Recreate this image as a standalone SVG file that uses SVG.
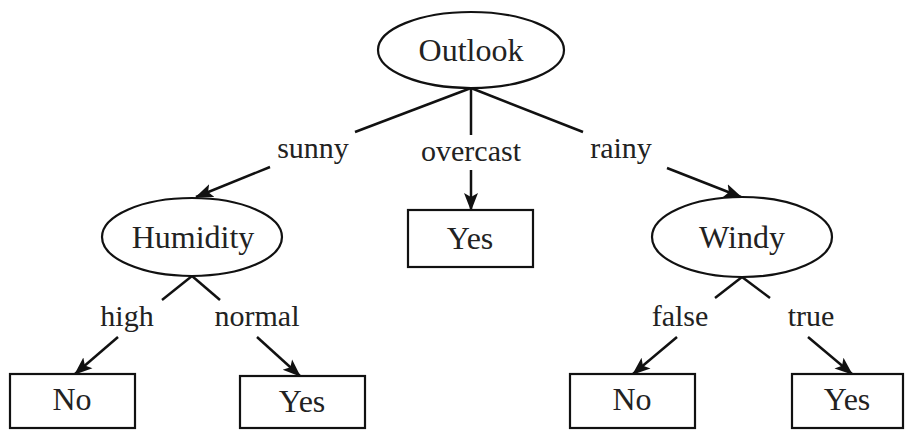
<svg xmlns="http://www.w3.org/2000/svg" width="905" height="430" viewBox="0 0 905 430">
  <defs>
    <marker id="arrow" markerWidth="18" markerHeight="16" refX="17" refY="8" orient="auto" markerUnits="userSpaceOnUse">
      <path d="M0,1 L18,8 L0,15 L4,8 Z" fill="#111"/>
    </marker>
    <style>
      .shape { fill: #fff; stroke: #111; stroke-width: 2.2; }
      .edge { stroke: #111; stroke-width: 2.5; fill: none; }
      .arr { stroke: #111; stroke-width: 2.5; fill: none; marker-end: url(#arrow); }
      .node-text { font-family: "Liberation Serif", "Times New Roman", serif; font-size: 32px; fill: #222; text-anchor: middle; }
      .label { font-family: "Liberation Serif", "Times New Roman", serif; font-size: 30px; fill: #222; text-anchor: middle; }
    </style>
  </defs>
  <rect width="905" height="430" fill="#fff"/>

  <!-- connectors -->
  <g id="connectors">
    <!-- Outlook branches -->
    <line class="edge" x1="471" y1="88" x2="355" y2="132"/>
    <line class="edge" x1="471" y1="88" x2="471" y2="135"/>
    <line class="edge" x1="471" y1="88" x2="583" y2="132"/>
    <line class="arr" x1="270" y1="167" x2="196" y2="197"/>
    <line class="arr" x1="471" y1="170" x2="471" y2="210"/>
    <line class="arr" x1="667" y1="168" x2="741" y2="197"/>
    <text class="label" x="313" y="158">sunny</text>
    <text class="label" x="471" y="161">overcast</text>
    <text class="label" x="621" y="158">rainy</text>

    <!-- Humidity branches -->
    <line class="edge" x1="192" y1="276" x2="162" y2="300"/>
    <line class="edge" x1="192" y1="276" x2="220" y2="300"/>
    <line class="arr" x1="118" y1="337" x2="75" y2="374"/>
    <line class="arr" x1="257" y1="337" x2="300" y2="376"/>
    <text class="label" x="127" y="326">high</text>
    <text class="label" x="257" y="326">normal</text>

    <!-- Windy branches -->
    <line class="edge" x1="742" y1="277" x2="715" y2="298"/>
    <line class="edge" x1="742" y1="277" x2="770" y2="298"/>
    <line class="arr" x1="677" y1="337" x2="633" y2="374"/>
    <line class="arr" x1="808" y1="337" x2="852" y2="374"/>
    <text class="label" x="680" y="326">false</text>
    <text class="label" x="811" y="326">true</text>
  </g>

  <!-- decision nodes -->
  <g id="outlook">
    <ellipse class="shape" cx="471" cy="50" rx="93" ry="38"/>
    <text class="node-text" x="471" y="61">Outlook</text>
  </g>
  <g id="humidity">
    <ellipse class="shape" cx="192" cy="237" rx="90" ry="39"/>
    <text class="node-text" x="193" y="248">Humidity</text>
  </g>
  <g id="windy">
    <ellipse class="shape" cx="742" cy="237" rx="90" ry="40"/>
    <text class="node-text" x="742" y="248">Windy</text>
  </g>

  <!-- leaf nodes -->
  <g id="leaf-overcast-yes">
    <rect class="shape" x="408" y="210" width="125" height="57"/>
    <text class="node-text" x="470" y="249">Yes</text>
  </g>
  <g id="leaf-high-no">
    <rect class="shape" x="10" y="374" width="125" height="54"/>
    <text class="node-text" x="72" y="410">No</text>
  </g>
  <g id="leaf-normal-yes">
    <rect class="shape" x="240" y="376" width="125" height="52"/>
    <text class="node-text" x="302" y="412">Yes</text>
  </g>
  <g id="leaf-false-no">
    <rect class="shape" x="570" y="374" width="125" height="54"/>
    <text class="node-text" x="632" y="410">No</text>
  </g>
  <g id="leaf-true-yes">
    <rect class="shape" x="792" y="374" width="111" height="54"/>
    <text class="node-text" x="847" y="410">Yes</text>
  </g>
</svg>
